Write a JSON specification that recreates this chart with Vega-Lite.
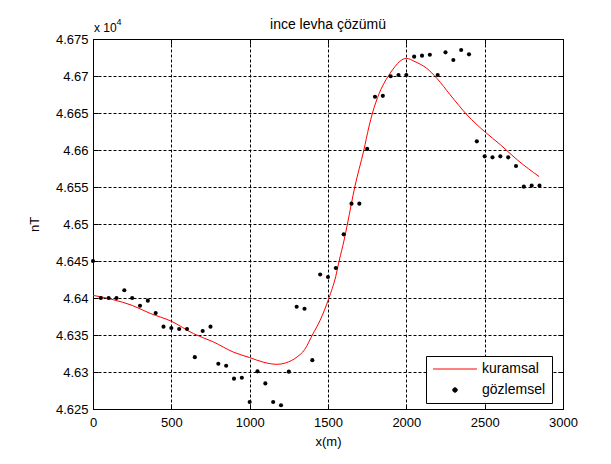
{
  "$schema": "https://vega.github.io/schema/vega-lite/v6.json",
  "width": 470,
  "height": 370,
  "autosize": {"type": "none"},
  "padding": {"left": 93, "top": 39, "right": 48, "bottom": 55},
  "background": "white",
  "config": {
    "font": "Liberation Sans",
    "view": {"stroke": "black", "strokeWidth": 1}
  },
  "title": {
    "text": "ince levha çözümü",
    "fontSize": 14,
    "fontWeight": "normal",
    "font": "Liberation Sans",
    "color": "black",
    "anchor": "middle",
    "frame": "group",
    "baseline": "alphabetic",
    "offset": 0,
    "dy": 24.5
  },
  "datasets": {
    "kuramsal": [
      {"x": 0, "y": 46403.6, "series": "kuramsal"},
      {"x": 130, "y": 46397.7, "series": "kuramsal"},
      {"x": 250, "y": 46390, "series": "kuramsal"},
      {"x": 365, "y": 46379.2, "series": "kuramsal"},
      {"x": 500, "y": 46368.6, "series": "kuramsal"},
      {"x": 642, "y": 46351.8, "series": "kuramsal"},
      {"x": 770, "y": 46340.5, "series": "kuramsal"},
      {"x": 898, "y": 46326.7, "series": "kuramsal"},
      {"x": 1000, "y": 46319.5, "series": "kuramsal"},
      {"x": 1090, "y": 46313.1, "series": "kuramsal"},
      {"x": 1175, "y": 46310.4, "series": "kuramsal"},
      {"x": 1228, "y": 46312.2, "series": "kuramsal"},
      {"x": 1303, "y": 46320.4, "series": "kuramsal"},
      {"x": 1350, "y": 46330, "series": "kuramsal"},
      {"x": 1400, "y": 46350, "series": "kuramsal"},
      {"x": 1450, "y": 46370, "series": "kuramsal"},
      {"x": 1506, "y": 46400, "series": "kuramsal"},
      {"x": 1549, "y": 46428.8, "series": "kuramsal"},
      {"x": 1571, "y": 46450, "series": "kuramsal"},
      {"x": 1603, "y": 46478.4, "series": "kuramsal"},
      {"x": 1624, "y": 46500, "series": "kuramsal"},
      {"x": 1671, "y": 46550, "series": "kuramsal"},
      {"x": 1729, "y": 46600, "series": "kuramsal"},
      {"x": 1761, "y": 46631.1, "series": "kuramsal"},
      {"x": 1784, "y": 46650, "series": "kuramsal"},
      {"x": 1827, "y": 46676.6, "series": "kuramsal"},
      {"x": 1885, "y": 46700, "series": "kuramsal"},
      {"x": 1927, "y": 46712.6, "series": "kuramsal"},
      {"x": 1960, "y": 46720, "series": "kuramsal"},
      {"x": 2000, "y": 46723.9, "series": "kuramsal"},
      {"x": 2055, "y": 46719.4, "series": "kuramsal"},
      {"x": 2130, "y": 46710.4, "series": "kuramsal"},
      {"x": 2195, "y": 46696.8, "series": "kuramsal"},
      {"x": 2281, "y": 46674.3, "series": "kuramsal"},
      {"x": 2388, "y": 46647.3, "series": "kuramsal"},
      {"x": 2500, "y": 46624.8, "series": "kuramsal"},
      {"x": 2602, "y": 46606.8, "series": "kuramsal"},
      {"x": 2709, "y": 46586.5, "series": "kuramsal"},
      {"x": 2848, "y": 46564, "series": "kuramsal"}
    ],
    "gozlemsel": [
      {"x": 0, "y": 46450, "series": "gözlemsel"},
      {"x": 50, "y": 46400, "series": "gözlemsel"},
      {"x": 100, "y": 46400, "series": "gözlemsel"},
      {"x": 150, "y": 46400, "series": "gözlemsel"},
      {"x": 200, "y": 46410.4, "series": "gözlemsel"},
      {"x": 250, "y": 46400, "series": "gözlemsel"},
      {"x": 300, "y": 46389.6, "series": "gözlemsel"},
      {"x": 350, "y": 46396.4, "series": "gözlemsel"},
      {"x": 400, "y": 46379.6, "series": "gözlemsel"},
      {"x": 450, "y": 46361.3, "series": "gözlemsel"},
      {"x": 500, "y": 46359.5, "series": "gözlemsel"},
      {"x": 550, "y": 46358.1, "series": "gözlemsel"},
      {"x": 600, "y": 46358.1, "series": "gözlemsel"},
      {"x": 650, "y": 46320.1, "series": "gözlemsel"},
      {"x": 700, "y": 46355.4, "series": "gözlemsel"},
      {"x": 750, "y": 46361.3, "series": "gözlemsel"},
      {"x": 800, "y": 46311.1, "series": "gözlemsel"},
      {"x": 850, "y": 46308.4, "series": "gözlemsel"},
      {"x": 900, "y": 46291, "series": "gözlemsel"},
      {"x": 950, "y": 46292.3, "series": "gözlemsel"},
      {"x": 1000, "y": 46259.5, "series": "gözlemsel"},
      {"x": 1050, "y": 46300.9, "series": "gözlemsel"},
      {"x": 1100, "y": 46284.6, "series": "gözlemsel"},
      {"x": 1150, "y": 46259.5, "series": "gözlemsel"},
      {"x": 1200, "y": 46255, "series": "gözlemsel"},
      {"x": 1250, "y": 46300.5, "series": "gözlemsel"},
      {"x": 1300, "y": 46388.2, "series": "gözlemsel"},
      {"x": 1350, "y": 46385.5, "series": "gözlemsel"},
      {"x": 1400, "y": 46316, "series": "gözlemsel"},
      {"x": 1450, "y": 46431.7, "series": "gözlemsel"},
      {"x": 1500, "y": 46428.3, "series": "gözlemsel"},
      {"x": 1550, "y": 46440.5, "series": "gözlemsel"},
      {"x": 1600, "y": 46486, "series": "gözlemsel"},
      {"x": 1650, "y": 46527.5, "series": "gözlemsel"},
      {"x": 1700, "y": 46527.5, "series": "gözlemsel"},
      {"x": 1750, "y": 46601.5, "series": "gözlemsel"},
      {"x": 1800, "y": 46672, "series": "gözlemsel"},
      {"x": 1850, "y": 46673.2, "series": "gözlemsel"},
      {"x": 1900, "y": 46699.7, "series": "gözlemsel"},
      {"x": 1950, "y": 46701.3, "series": "gözlemsel"},
      {"x": 2000, "y": 46701.3, "series": "gözlemsel"},
      {"x": 2050, "y": 46726.1, "series": "gözlemsel"},
      {"x": 2100, "y": 46727.5, "series": "gözlemsel"},
      {"x": 2150, "y": 46728.8, "series": "gözlemsel"},
      {"x": 2200, "y": 46701.3, "series": "gözlemsel"},
      {"x": 2250, "y": 46732, "series": "gözlemsel"},
      {"x": 2300, "y": 46721.6, "series": "gözlemsel"},
      {"x": 2350, "y": 46735.1, "series": "gözlemsel"},
      {"x": 2400, "y": 46729.3, "series": "gözlemsel"},
      {"x": 2450, "y": 46611.7, "series": "gözlemsel"},
      {"x": 2500, "y": 46591.4, "series": "gözlemsel"},
      {"x": 2550, "y": 46590.1, "series": "gözlemsel"},
      {"x": 2600, "y": 46591.4, "series": "gözlemsel"},
      {"x": 2650, "y": 46590.1, "series": "gözlemsel"},
      {"x": 2700, "y": 46578.4, "series": "gözlemsel"},
      {"x": 2750, "y": 46550.5, "series": "gözlemsel"},
      {"x": 2800, "y": 46551.8, "series": "gözlemsel"},
      {"x": 2850, "y": 46551.8, "series": "gözlemsel"}
    ]
  },
  "resolve": {"axis": {"x": "independent", "y": "independent"}},
  "layer": [
    {
      "data": {"name": "kuramsal"},
      "mark": {"type": "line", "strokeWidth": 1, "interpolate": "monotone", "clip": true},
      "encoding": {
        "x": {
          "field": "x", "type": "quantitative",
          "scale": {"domain": [0, 3000], "nice": false, "zero": false},
          "axis": {
            "values": [0, 500, 1000, 1500, 2000, 2500, 3000],
            "format": "d",
            "title": "x(m)",
            "grid": true, "gridColor": "black", "gridDash": [3, 2], "gridOpacity": 1, "gridWidth": 1,
            "domain": true, "domainColor": "black",
            "ticks": true, "tickSize": -5, "tickColor": "black",
            "labelPadding": 12, "labelFontSize": 13, "labelColor": "black", "labelFont": "Liberation Sans",
            "labelFlush": false, "labelOverlap": false,
            "titleFont": "Liberation Sans", "titleFontSize": 13, "titleFontWeight": "normal", "titleColor": "black",
            "titleX": 235, "titleY": 32, "titleBaseline": "middle", "titleAlign": "center"
          }
        },
        "y": {
          "field": "y", "type": "quantitative",
          "scale": {"domain": [46250, 46750], "nice": false, "zero": false},
          "axis": {
            "values": [46250, 46300, 46350, 46400, 46450, 46500, 46550, 46600, 46650, 46700, 46750],
            "labelExpr": "format(datum.value / 10000, '.3~f')",
            "title": "nT",
            "grid": true, "gridColor": "black", "gridDash": [3, 2], "gridOpacity": 1, "gridWidth": 1,
            "domain": true, "domainColor": "black",
            "ticks": true, "tickSize": -5, "tickColor": "black",
            "labelPadding": 10, "labelFontSize": 13, "labelColor": "black", "labelFont": "Liberation Sans",
            "labelFlush": false, "labelOverlap": false,
            "titleFont": "Liberation Sans", "titleFontSize": 13, "titleFontWeight": "normal", "titleColor": "black",
            "titleX": -59, "titleY": 185, "titleAngle": 270, "titleBaseline": "middle", "titleAlign": "center"
          }
        },
        "color": {
          "field": "series", "type": "nominal",
          "scale": {"domain": ["kuramsal", "gözlemsel"], "range": ["#ff0000", "#000000"]},
          "legend": {
            "title": null, "orient": "none", "legendX": 333, "legendY": 317,
            "fillColor": "white", "strokeColor": "black", "padding": 6, "rowPadding": 7,
            "labelFont": "Liberation Sans", "labelFontSize": 14, "labelColor": "black",
            "symbolSize": 100, "symbolOffset": 0, "labelOffset": 36,
            "encode": {
              "symbols": {
                "update": {
                  "shape": {"signal": "datum.value === 'kuramsal' ? 'M-1.2,0H7.6' : 'M2.75,0A0.45,0.45,0,1,1,3.65,0A0.45,0.45,0,1,1,2.75,0Z'"},
                  "stroke": {"signal": "datum.value === 'kuramsal' ? '#ff0000' : 'transparent'"},
                  "fill": {"signal": "datum.value === 'kuramsal' ? 'transparent' : '#000000'"},
                  "strokeWidth": {"value": 1},
                  "opacity": {"value": 1}
                }
              }
            }
          }
        }
      }
    },
    {
      "data": {"name": "gozlemsel"},
      "mark": {"type": "point", "shape": "circle", "filled": true, "size": 17, "opacity": 1, "strokeWidth": 0},
      "encoding": {
        "x": {
          "field": "x", "type": "quantitative",
          "axis": {
            "orient": "top", "values": [0, 500, 1000, 1500, 2000, 2500, 3000],
            "labels": false, "domain": false, "grid": false, "ticks": true, "tickSize": -5, "tickColor": "black", "title": null
          }
        },
        "y": {
          "field": "y", "type": "quantitative",
          "axis": {
            "orient": "right", "values": [46250, 46300, 46350, 46400, 46450, 46500, 46550, 46600, 46650, 46700, 46750],
            "labels": false, "domain": false, "grid": false, "ticks": true, "tickSize": -5, "tickColor": "black", "title": null
          }
        },
        "color": {"field": "series", "type": "nominal"}
      }
    },
    {
      "data": {"values": [{"label": "x 10"}]},
      "mark": {"type": "text", "align": "left", "baseline": "alphabetic", "dx": 1, "dy": -7, "fontSize": 12, "font": "Liberation Sans", "color": "black", "clip": false},
      "encoding": {
        "x": {"datum": 0, "type": "quantitative", "axis": null},
        "y": {"datum": 46750, "type": "quantitative", "axis": null},
        "text": {"field": "label"}
      }
    },
    {
      "data": {"values": [{"label": "4"}]},
      "mark": {"type": "text", "align": "left", "baseline": "alphabetic", "dx": 23.5, "dy": -14, "fontSize": 9, "font": "Liberation Sans", "color": "black", "clip": false},
      "encoding": {
        "x": {"datum": 0, "type": "quantitative", "axis": null},
        "y": {"datum": 46750, "type": "quantitative", "axis": null},
        "text": {"field": "label"}
      }
    }
  ]
}
